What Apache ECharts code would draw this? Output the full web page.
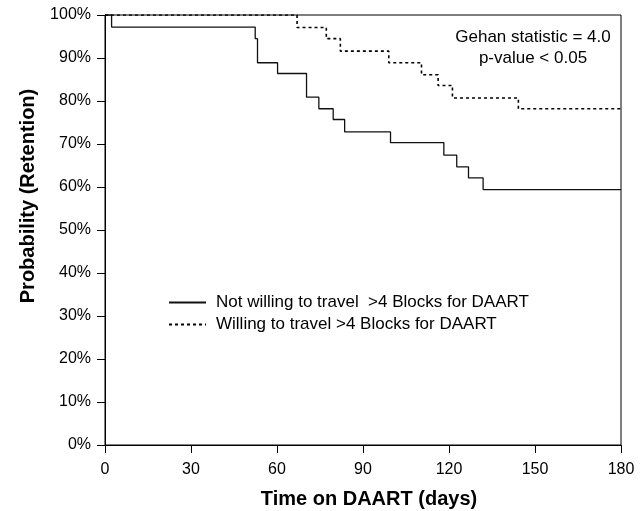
<!DOCTYPE html>
<html>
<head>
<meta charset="utf-8">
<title>Retention on DAART</title>
<script src="https://cdn.jsdelivr.net/npm/echarts@6/dist/echarts.min.js"></script>
<style>
  html, body { margin: 0; padding: 0; background: #fff; }
  #chart { width: 644px; height: 511px; }
</style>
</head>
<body>
<div id="chart"></div>
<script>
// Kaplan-Meier style retention curves (days, % retained after each drop)
const notWillingDays = [0, 2.3, 52.4, 53.2, 60.2, 70.3, 74.6, 79.6, 83.6, 99.6, 118.2, 122.7, 126.8, 131.9, 180]
const notWillingProb = [100, 97.2, 94.5, 88.9, 86.4, 80.9, 78.2, 75.7, 72.8, 70.3, 67.4, 64.7, 62.1, 59.4, 59.4]

const willingDays = [0, 67, 77.2, 82.1, 99, 110.4, 116.2, 121.2, 144.2, 180]
const willingProb = [100, 97.1, 94.5, 91.6, 88.9, 86.1, 83.6, 80.7, 78.2, 78.2]

const seriesNames = ['Not willing to travel  >4 Blocks for DAART', 'Willing to travel >4 Blocks for DAART']
const statLines = ['Gehan statistic = 4.0', 'p-value < 0.05']
const yTitle = 'Probability (Retention)'
const xTitle = 'Time on DAART (days)'

// 拼成 [x, y] 点
function toPoints(days, prob) {
  return days.map((d, i) => [d, prob[i]])
}

const chart = echarts.init(document.getElementById('chart'))
const font = 'Liberation Sans, Arial, sans-serif'

const option = {
  animation: false,
  backgroundColor: '#fff',
  grid: {
    left: 105,
    right: 23,
    top: 15,
    bottom: 66,
    outerBoundsMode: 'none',
    show: true,
    borderColor: '#000',
    borderWidth: 1,
  },
  xAxis: {
    type: 'value',
    min: 0,
    max: 180,
    interval: 30,
    name: xTitle,
    nameLocation: 'middle',
    nameGap: 44,
    nameTextStyle: {
      color: '#000',
      fontSize: 20,
      fontWeight: 'bold',
      fontFamily: font,
      padding: [0, 0, 0, 12],
    },
    axisLine: { show: true, lineStyle: { color: '#000', width: 1 } },
    axisTick: { show: true, inside: false, length: 8, lineStyle: { color: '#000' } },
    axisLabel: { color: '#000', fontSize: 16, margin: 17, fontFamily: font },
    splitLine: { show: false },
  },
  yAxis: {
    type: 'value',
    min: 0,
    max: 100,
    interval: 10,
    axisLine: { show: true, lineStyle: { color: '#000', width: 1 } },
    axisTick: { show: true, inside: false, length: 8, lineStyle: { color: '#000' } },
    axisLabel: {
      color: '#000',
      fontSize: 16,
      margin: 14,
      fontFamily: font,
      formatter: (v) => v + '%',
    },
    splitLine: { show: false },
  },
  legend: {
    orient: 'vertical',
    left: 168,
    top: 294,
    padding: 0,
    itemWidth: 37,
    itemHeight: 14,
    itemGap: 5,
    data: seriesNames,
    itemStyle: { opacity: 0 }, // 只要线，不要圆点
    textStyle: { color: '#000', fontSize: 17, fontFamily: font, padding: [0, 0, 0, 5] },
  },
  graphic: [
    {
      type: 'text',
      x: 533,
      y: 27,
      style: {
        text: statLines.join('\n'),
        fill: '#000',
        font: '17px ' + font,
        align: 'center',
        lineHeight: 21,
      },
    },
    {
      type: 'text',
      x: 28,
      y: 196,
      rotation: Math.PI / 2,
      style: {
        text: yTitle,
        fill: '#000',
        font: 'bold 20px ' + font,
        align: 'center',
        verticalAlign: 'middle',
      },
    },
  ],
  series: [
    {
      name: seriesNames[0],
      type: 'line',
      step: 'end',
      symbol: 'none',
      showSymbol: false,
      data: toPoints(notWillingDays, notWillingProb),
      lineStyle: { color: '#111', width: 1.3, type: 'solid' },
      itemStyle: { color: '#111' },
    },
    {
      name: seriesNames[1],
      type: 'line',
      step: 'end',
      symbol: 'none',
      showSymbol: false,
      data: toPoints(willingDays, willingProb),
      lineStyle: { color: '#000', width: 1.6, type: [3, 3] },
      itemStyle: { color: '#000' },
    },
  ],
}
chart.setOption(option)
</script>
</body>
</html>
